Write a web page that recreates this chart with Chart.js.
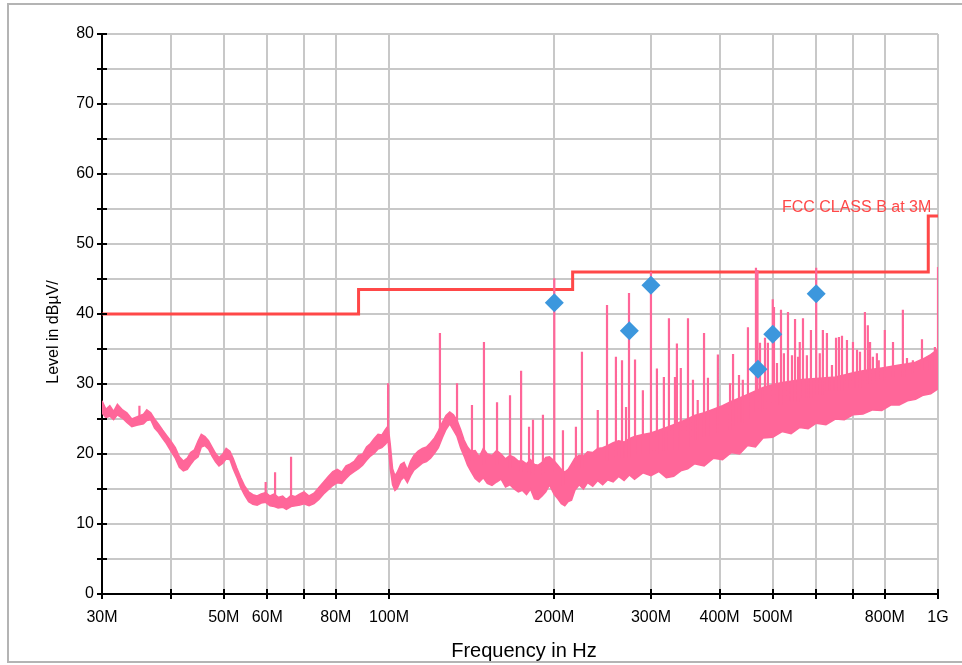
<!DOCTYPE html>
<html>
<head>
<meta charset="utf-8">
<script src="https://cdn.jsdelivr.net/npm/chart.js@4.4.1/dist/chart.umd.min.js"></script>
<style>
  html, body { margin: 0; padding: 0; background: #fff; overflow: hidden; }
  #frame { position: absolute; left: 7px; top: 3px; width: 990px; height: 660px; border: 2px solid #b4b4b4; box-sizing: border-box; }
  #chart { position: absolute; left: 0; top: 0; }
</style>
</head>
<body>
<div id="frame"></div>
<canvas id="chart" width="962" height="665"></canvas>
<script>
// frequencies in MHz, levels in dBµV
const bandFreq = [30, 30.5, 31, 31.5, 32, 32.7, 33.3, 34, 34.7, 35.7, 36.2, 36.8, 37.4, 38, 38.7, 39.3,
  40, 40.8, 41.5, 42.2, 42.9, 43.5, 44.2, 44.9, 45.5, 46.2, 46.9, 47.6, 48.3, 49, 49.8,
  50.5, 51.3, 52, 52.8, 53.7, 54.6, 55.5, 56.5, 57.5, 58.5, 59.6, 60.7, 61.8, 62.8, 64, 65,
  66.3, 67.5, 68.8, 70, 71.5, 73, 74.5, 76, 77.5, 79, 80.5, 82, 83.5, 85, 86.5, 88, 89.5,
  91, 92.5, 94, 95.5, 97, 98.5, 99.6, 100.5, 101.5, 102.5, 103.5, 105, 106.5, 108, 109.5,
  111, 113, 115, 117, 119, 121, 123, 125, 127, 129, 131, 133, 135, 137, 139, 141, 143.5,
  146, 148.5, 151, 154, 157, 160, 163, 166, 169, 172, 175, 178, 181, 184, 187, 190, 193,
  196, 200, 203, 206, 209, 212, 215, 218, 222, 226, 230, 235, 240, 245, 250, 256, 262,
  268, 274, 280, 290, 300, 310, 320, 330, 340, 350, 360, 375, 390, 405, 420, 435, 450,
  465, 480, 500, 520, 540, 560, 580, 600, 625, 650, 675, 700, 730, 760, 790, 820, 850,
  880, 910, 940, 970, 1000];
const bandHigh = [27.6, 26.4, 26.9, 26.1, 27.1, 26.3, 25.9, 25.0, 25.3, 25.7, 26.3, 25.9, 25.0, 24.3, 23.4, 22.7,
  21.9, 20.9, 19.6, 19.0, 19.4, 20.2, 20.6, 21.9, 22.8, 22.5, 21.9, 21.0, 20.1, 19.5, 20.0,
  20.8, 20.4, 19.4, 18.0, 16.6, 15.4, 14.6, 14.2, 14.0, 14.3, 14.5, 14.0, 14.3, 13.8, 14.0, 13.5,
  14.1, 13.9, 14.3, 14.6, 14.0, 14.4, 15.2, 16.0, 16.8, 17.5, 17.8, 17.4, 18.3, 18.6, 19.0, 19.8, 20.0,
  21.0, 21.5, 22.2, 22.8, 22.7, 23.5, 24.0, 21.4, 17.9, 16.9, 17.4, 18.5, 18.8, 17.7, 19.0,
  19.8, 20.4, 20.8, 21.0, 21.6, 22.3, 23.3, 24.5, 25.5, 26.0, 25.6, 24.8, 23.5, 22.0, 21.0, 20.4, 20.5,
  19.6, 20.8, 20.0, 19.8, 20.5, 20.0, 19.3, 19.8, 19.5, 19.0, 19.0, 18.6, 19.2, 18.5, 18.4, 18.8, 19.5,
  19.6, 19.0, 18.4, 17.8, 17.4, 17.8, 18.6, 19.4, 19.8, 19.7, 20.3, 20.2, 20.8, 20.9, 21.2, 21.6, 21.9,
  21.7, 22.2, 22.5, 22.8, 23.0, 23.4, 23.8, 24.2, 24.6, 25.0, 25.5, 25.9, 26.4, 26.9, 27.5, 28.0, 28.5,
  29.0, 29.5, 29.9, 30.2, 30.4, 30.6, 30.7, 30.8, 30.9, 31.0, 31.3, 31.6, 31.9, 32.1, 32.3, 32.5, 32.7,
  32.9, 33.1, 33.6, 34.2, 35.0];
const bandLow = [25.9, 25.2, 25.4, 24.9, 25.6, 25.1, 24.5, 23.9, 24.1, 24.3, 24.8, 24.9, 23.7, 23.1, 22.2, 21.5,
  20.5, 19.4, 18.1, 17.6, 17.8, 18.5, 19.2, 19.6, 21.0, 21.2, 20.7, 19.7, 18.9, 18.3, 18.7,
  19.3, 19.2, 17.9, 16.7, 15.2, 14.1, 13.2, 12.8, 12.7, 13.0, 13.1, 12.6, 12.5, 12.3, 12.4, 12.1,
  12.5, 12.6, 12.7, 12.9, 12.6, 12.9, 13.5, 14.3, 14.9, 15.5, 15.9, 15.8, 16.5, 17.1, 17.5, 17.9, 18.4,
  19.1, 19.7, 20.1, 20.7, 20.9, 21.4, 21.9, 17.9, 15.6, 14.8, 15.1, 16.2, 16.7, 15.9, 16.9,
  17.7, 18.2, 18.7, 18.9, 19.4, 20.1, 20.9, 22.3, 23.5, 24.3, 23.4, 22.5, 20.9, 19.7, 18.4, 17.5, 16.5,
  16.0, 16.6, 15.8, 15.5, 16.0, 16.4, 15.3, 15.6, 15.0, 14.6, 14.8, 14.2, 15.0, 13.6, 13.5, 14.0, 14.6,
  15.6, 14.2, 13.6, 12.9, 12.6, 13.2, 13.4, 14.8, 15.6, 15.0, 15.9, 15.4, 16.2, 15.6, 16.3, 16.0, 16.8,
  16.2, 17.0, 16.4, 17.3, 16.9, 17.5, 16.6, 16.8, 17.6, 17.9, 18.6, 18.3, 19.4, 19.2, 20.2, 20.0, 21.2,
  21.0, 22.3, 22.4, 23.2, 22.9, 23.8, 23.6, 24.4, 24.2, 25.0, 24.9, 25.6, 25.7, 26.3, 26.2, 27.0, 27.0,
  27.6, 27.8, 28.4, 28.6, 29.3];

// tall emission lines
const spikeFreq = [35.1, 59.6, 62, 66.3, 99.6, 123.8, 133, 141.6, 148.9, 157.3, 166.1, 174, 179.9, 182.9, 190.7,
  200, 207.4, 219, 224.6, 240, 249.5, 259, 265.7, 270.2, 273.6, 280.6, 290, 300, 307.6, 316.7,
  323.5, 334.5, 340, 350.4, 357.8, 374.8, 397.2, 423.3, 434, 450.6, 466, 469, 484, 500, 502.6,
  517.6, 533, 542, 549, 560, 567.6, 577, 586.9, 600, 609, 617, 627.6, 652, 668.5, 682.6,
  700, 712, 736, 752, 774, 780, 800, 828, 863, 900, 935, 975, 1000];
const spikeTop = [26.9, 16.0, 17.4, 19.6, 30.1, 37.3, 30.1, 27.0, 36.0, 27.4, 28.4, 31.9, 23.9, 24.9, 25.6,
  45.1, 23.4, 23.9, 34.6, 26.3, 41.3, 33.9, 33.4, 26.7, 43.0, 33.5, 29.1, 46.0, 32.2, 31.0,
  39.4, 35.8, 32.3, 39.4, 30.6, 37.3, 34.2, 34.3, 31.3, 38.1, 46.6, 46.3, 36.6, 42.1, 41.0,
  40.6, 40.3, 34.1, 39.3, 36.0, 39.4, 34.1, 37.7, 46.6, 34.4, 37.7, 37.3, 36.6, 36.9, 36.3,
  36.0, 34.9, 40.3, 36.0, 34.4, 33.4, 37.7, 36.0, 40.6, 33.4, 36.4, 33.4, 46.7];
const spikeBase = [25.0, 13.5, 13.0, 13.2, 23.0, 22.5, 24.0, 19.0, 18.5, 18.5, 18.0, 17.5, 17.0, 17.0, 17.0,
  17.5, 15.5, 18.0, 18.0, 19.0, 19.0, 19.5, 19.5, 19.5, 19.5, 20.0, 20.0, 20.0, 20.0, 20.5,
  20.5, 20.5, 21.0, 21.0, 22.0, 22.5, 23.0, 24.0, 24.5, 25.0, 26.0, 26.0, 26.5, 27.0, 27.0,
  27.0, 27.5, 27.5, 27.5, 28.0, 28.0, 28.0, 28.0, 28.5, 28.5, 28.5, 29.0, 29.0, 29.0, 29.5,
  29.5, 29.5, 30.0, 30.0, 30.5, 30.5, 30.5, 31.0, 31.0, 31.5, 32.0, 32.0, 32.0];

// shorter lines over the noise floor
const grassFreq = [331.8, 365, 381, 418, 441, 474, 490, 509, 524, 556, 641, 660, 721, 745, 761, 878, 955, 987];
const grassTop = [31.0, 27.7, 30.9, 30.1, 30.6, 35.9, 35.9, 33.0, 34.4, 33.9, 32.7, 36.7, 34.6, 38.4, 33.9, 33.7, 33.4, 35.3];
const grassBase = [20.5, 22.0, 22.5, 23.5, 24.5, 26.0, 26.5, 27.0, 27.0, 27.5, 29.0, 29.0, 29.5, 30.0, 30.0, 31.0, 32.0, 32.0];

const markerFreq = [200, 274, 300, 470, 500, 600];
const markerLevel = [41.6, 37.6, 44.1, 32.1, 37.1, 42.9];

const limitFreq = [30, 88, 216, 960, 1000];
const limitLevel = [40, 43.5, 46, 54, 54];
const limitLabel = 'FCC CLASS B at 3M';

const xTicks = [30, 40, 50, 60, 70, 80, 100, 200, 300, 400, 500, 600, 700, 800, 1000];
const xTickLabels = ['30M', '', '50M', '60M', '', '80M', '100M', '200M', '300M', '400M', '500M', '', '', '800M', '1G'];

const xTitle = 'Frequency in Hz';
const yTitle = 'Level in dBµV/';

const pink = '#ff6699';
const red = '#ff4848';
const blue = '#3c97dd';
const gridGrey = '#c8c8c8';
const fontFamily = '"Liberation Sans", Arial, sans-serif';

Chart.defaults.font.family = fontFamily;
Chart.defaults.font.size = 16;
Chart.defaults.color = '#000';

// lines as vertical strokes separated by gaps
const spikePts = [];
function addLines(freqs, tops, bases) {
  freqs.forEach((f, i) => {
    spikePts.push({ x: f, y: bases[i] }, { x: f, y: tops[i] }, { x: f, y: null });
  });
}
addLines(spikeFreq, spikeTop, spikeBase);
addLines(grassFreq, grassTop, grassBase);

// extra drawing: inner tick marks, axis titles, limit label
const decor = {
  id: 'decor',
  afterDraw(chart) {
    const { ctx, chartArea, scales: { x, y } } = chart;
    ctx.save();
    ctx.strokeStyle = '#000';
    ctx.lineWidth = 2;
    y.ticks.forEach(t => {
      const py = Math.round(y.getPixelForValue(t.value));
      ctx.beginPath();
      ctx.moveTo(chartArea.left, py);
      ctx.lineTo(chartArea.left + 5, py);
      ctx.stroke();
    });
    x.ticks.forEach(t => {
      const px = Math.round(x.getPixelForValue(t.value));
      ctx.beginPath();
      ctx.moveTo(px, chartArea.bottom);
      ctx.lineTo(px, chartArea.bottom - 5);
      ctx.stroke();
    });

    ctx.fillStyle = red;
    ctx.font = '16px ' + fontFamily;
    ctx.textAlign = 'right';
    ctx.textBaseline = 'alphabetic';
    ctx.fillText(limitLabel, x.getPixelForValue(limitFreq[3]) + 3, y.getPixelForValue(limitLevel[3]) - 4);

    ctx.fillStyle = '#000';
    ctx.font = '20px ' + fontFamily;
    ctx.textAlign = 'center';
    ctx.fillText(xTitle, 524, 657);

    ctx.font = '16px ' + fontFamily;
    ctx.translate(58, 332);
    ctx.rotate(-Math.PI / 2);
    ctx.fillText(yTitle, 0, 0);
    ctx.restore();
  }
};

const gridOpts = { color: gridGrey, lineWidth: 2, tickColor: '#000', tickLength: 5, tickWidth: 2 };

new Chart(document.getElementById('chart'), {
  type: 'line',
  data: {
    datasets: [
      {
        data: markerFreq.map((f, i) => ({ x: f, y: markerLevel[i] })),
        showLine: false, pointStyle: 'rectRot', pointRadius: 9.5,
        backgroundColor: blue, borderColor: blue, borderWidth: 0, order: 0
      },
      {
        data: spikePts, borderColor: pink, borderWidth: 2.2, pointRadius: 0,
        spanGaps: false, order: 1
      },
      {
        data: bandFreq.map((f, i) => ({ x: f, y: bandHigh[i] })),
        borderColor: pink, borderWidth: 1.5, pointRadius: 0, fill: false, order: 2
      },
      {
        data: bandFreq.map((f, i) => ({ x: f, y: bandLow[i] })),
        borderColor: pink, backgroundColor: pink, borderWidth: 1.5, pointRadius: 0,
        fill: '-1', order: 3
      },
      {
        data: limitFreq.map((f, i) => ({ x: f, y: limitLevel[i] })),
        borderColor: red, borderWidth: 3, pointRadius: 0, stepped: 'before', order: 4
      }
    ]
  },
  options: {
    responsive: false,
    animation: false,
    events: [],
    layout: { padding: { left: 0, right: 24, top: 34, bottom: 0 } },
    plugins: { legend: { display: false }, tooltip: { enabled: false } },
    scales: {
      x: {
        type: 'logarithmic', min: 30, max: 1000,
        afterBuildTicks: s => { s.ticks = xTicks.map(v => ({ value: v })); },
        afterFit: s => { s.height = 71; },
        ticks: {
          autoSkip: false, maxRotation: 0, padding: 9,
          callback: (v, i) => xTickLabels[i]
        },
        grid: gridOpts,
        border: { color: '#000', width: 2 }
      },
      y: {
        min: 0, max: 80,
        afterFit: s => { s.width = 102; },
        ticks: {
          stepSize: 5, autoSkip: false, padding: 3,
          callback: v => (v % 10 === 0 ? String(v) : '')
        },
        grid: gridOpts,
        border: { color: '#000', width: 2 }
      }
    }
  },
  plugins: [decor]
});
</script>
</body>
</html>
